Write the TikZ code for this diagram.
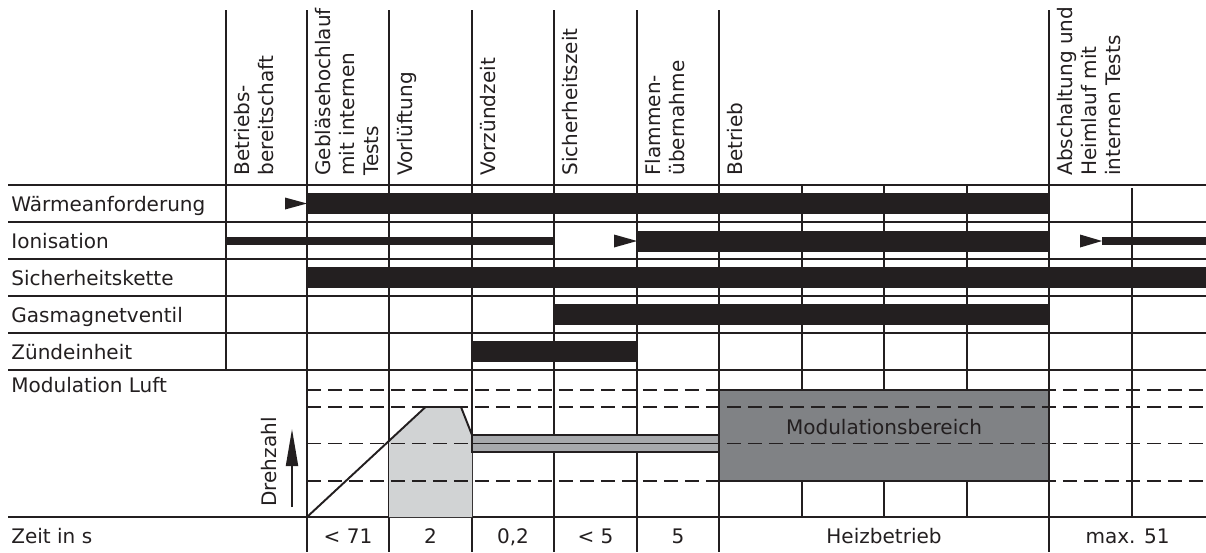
\documentclass[tikz,border=0pt]{standalone}
\usepackage{fontspec}
\setmainfont{DejaVu Sans}
\usetikzlibrary{arrows.meta}
\definecolor{ink}{HTML}{231F20}
\definecolor{graylight}{HTML}{D1D3D4}
\definecolor{graymid}{HTML}{A7A9AC}
\definecolor{graydark}{HTML}{808285}

\begin{document}
\begin{tikzpicture}[x=0.02cm,y=-0.02cm,
  grid/.style={ink,line width=1.1pt},
  guide/.style={ink,line width=1.1pt,dash pattern=on 0.28cm off 0.14cm},
  bar/.style={fill=ink,draw=none},
  lbl/.style={font=\fontsize{11.4pt}{13.7pt}\selectfont,text=ink,inner sep=0pt},
  phase/.style={lbl,rotate=90,anchor=north west,align=left}]
\useasboundingbox (0,0) rectangle (1206,552);

% horizontal rules
\draw[grid] (8,185) -- (1206,185);
\draw[grid] (8,222) -- (1206,222);
\draw[grid] (8,259) -- (1206,259);
\draw[grid] (8,296) -- (1206,296);
\draw[grid] (8,333) -- (1206,333);
\draw[grid] (8,370) -- (1206,370);
\draw[grid] (8,517) -- (1206,517);

% vertical rules
\draw[grid] (226,10) -- (226,370);
\draw[grid] (307,10) -- (307,552);
\draw[grid] (389,10) -- (389,552);
\draw[grid] (472,10) -- (472,552);
\draw[grid] (554,10) -- (554,552);
\draw[grid] (637,10) -- (637,552);
\draw[grid] (719,10) -- (719,552);
\draw[grid] (802,185) -- (802,517);
\draw[grid] (884,185) -- (884,517);
\draw[grid] (967,185) -- (967,517);
\draw[grid] (1049,10) -- (1049,552);
\draw[grid] (1132,188) -- (1132,517);

% phase headings
\node[phase] (hBereit) at (233.5,176) {Betriebs-\\bereitschaft};
\node[phase] (hGeblaese) at (314.5,176) {Gebläsehochlauf\\mit internen\\Tests};
\node[phase] (hVorl) at (396.5,176) {Vorlüftung};
\node[phase] (hVorz) at (479.5,176) {Vorzündzeit};
\node[phase] (hSicher) at (561.5,176) {Sicherheitszeit};
\node[phase] (hFlamme) at (644.5,176) {Flammen-\\übernahme};
\node[phase] (hBetrieb) at (726.5,176) {Betrieb};
\node[phase] (hAbsch) at (1056.5,176) {Abschaltung und\\Heimlauf mit\\internen Tests};

% signal names
\node[lbl,anchor=base west] (sWaerme) at (11,211.5) {Wärmeanforderung};
\node[lbl,anchor=base west] (sIon) at (11,248.5) {Ionisation};
\node[lbl,anchor=base west] (sKette) at (11,285.5) {Sicherheitskette};
\node[lbl,anchor=base west] (sGas) at (11,322.5) {Gasmagnetventil};
\node[lbl,anchor=base west] (sZuend) at (11,359.5) {Zündeinheit};
\node[lbl,anchor=base west] (sLuft) at (11,392) {Modulation Luft};
\node[lbl,anchor=base west] (sZeit) at (11,543) {Zeit in s};

% signal bars
\fill[bar] (285,197.5) -- (307,203.5) -- (285,209.5) -- cycle;
\fill[bar] (307,193) rectangle (1049,214);
\fill[bar] (226,237) rectangle (554,245);
\fill[bar] (614,234.5) -- (637,241) -- (614,247.5) -- cycle;
\fill[bar] (637,230.5) rectangle (1049,251.5);
\fill[bar] (1080,234.5) -- (1102,241) -- (1080,247.5) -- cycle;
\fill[bar] (1102,237) rectangle (1206,245);
\fill[bar] (307,267) rectangle (1206,288);
\fill[bar] (554,304) rectangle (1049,325);
\fill[bar] (472,341) rectangle (637,362);

% fan speed
\fill[graylight] (389,517) -- (389,440.9) -- (425.5,407) -- (461,407) -- (472,435) -- (472,517) -- cycle;
\fill[graymid] (472,435) rectangle (719,452);
\draw[grid,line width=0.9pt] (472,435) rectangle (719,452);
\fill[graydark] (719,390) rectangle (1049,481);
\draw[grid] (719,390) rectangle (1049,481);
\draw[guide] (307,390) -- (1206,390);
\draw[guide] (307,407) -- (1206,407);
\draw[guide] (307,443.5) -- (1206,443.5);
\draw[guide] (307,481) -- (1206,481);
\draw[grid,line width=0.9pt] (472,443.5) -- (719,443.5);
\draw[grid,line join=round] (307,517) -- (425.5,407) -- (461,407) -- (472,435);
\node[lbl] (modBereich) at (884,427) {Modulationsbereich};

\node[lbl,rotate=90,anchor=north west] (drehzahl) at (261,507) {Drehzahl};
\coordinate (rpmLow) at (292,507);
\coordinate (rpmHigh) at (292,429);
\draw[grid,-{Triangle[length=0.74cm,width=0.24cm]}] (rpmLow) -- (rpmHigh);

% durations
\node[lbl,anchor=base] (t1) at (348,543) {< 71};
\node[lbl,anchor=base] (t2) at (430.5,543) {2};
\node[lbl,anchor=base] (t3) at (513,543) {0,2};
\node[lbl,anchor=base] (t4) at (595.5,543) {< 5};
\node[lbl,anchor=base] (t5) at (678,543) {5};
\node[lbl,anchor=base] (t6) at (884,543) {Heizbetrieb};
\node[lbl,anchor=base] (t7) at (1127.5,543) {max. 51};

\end{tikzpicture}
\end{document}
